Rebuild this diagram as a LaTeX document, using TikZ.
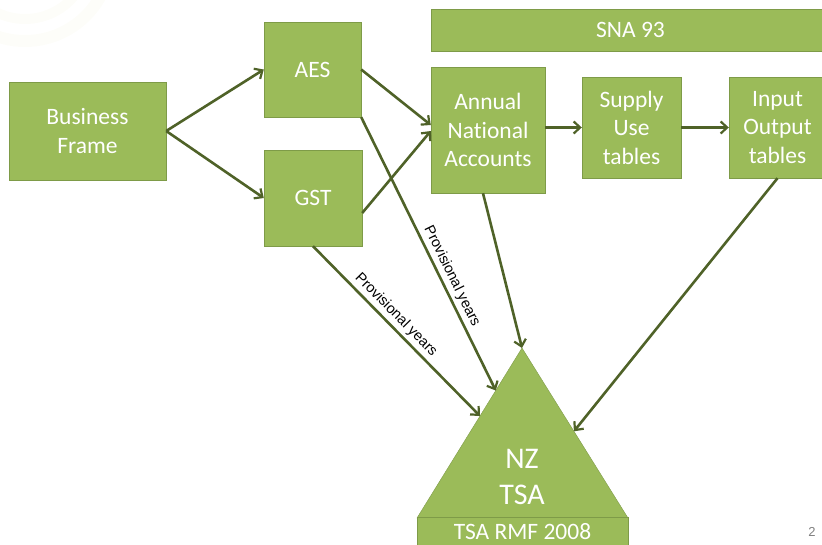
\documentclass[tikz,border=0pt]{standalone}
\usepackage{fontspec}
\setmainfont{Carlito}[Ligatures=NoCommon]
\newfontfamily\labelfont{Liberation Sans}
\usetikzlibrary{arrows.meta, calc}

\definecolor{boxgreen}{HTML}{9BBB59}
\definecolor{boxline}{HTML}{7E9B48}
\definecolor{arrowgreen}{HTML}{4F6228}
\definecolor{ringcol}{HTML}{FDFDF9}

\begin{document}
\begin{tikzpicture}[x=1pt, y=-1pt]

\tikzset{box/.style = {draw=boxline, fill=boxgreen, text=white, align=center, inner sep=0pt,
  font=\fontsize{23.5}{28.5}\selectfont}}
\tikzset{link/.style = {draw=arrowgreen, line width=2.6pt, -{Straight Barb[length=6.5pt,width=12pt,line width=2.2pt]}}}
\tikzset{prov/.style = {font=\labelfont\fontsize{14.5}{16}\selectfont, sloped, above, inner sep=3pt}}

\useasboundingbox (0,0) rectangle (822,544);
% background rings
\draw[ringcol, line width=12pt] (25,-45) circle (86);
\draw[ringcol, line width=10pt] (25,-45) circle (64);

% boxes
\node[box, minimum width=157pt, minimum height=98pt] (bf) at (87.5,131) {Business\\Frame};
\node[box, minimum width=97pt, minimum height=95pt] (aes) at (312.5,69.5) {AES};
\node[box, minimum width=98pt, minimum height=96pt] (gst) at (313,198) {GST};
\node[box, minimum width=399pt, minimum height=42pt] (sna) at (630.5,30) {SNA 93};
\node[box, minimum width=114pt, minimum height=126pt] (ana) at (488,130) {Annual\\National\\Accounts};
\node[box, minimum width=99pt, minimum height=101pt] (sut) at (631.5,127.5) {Supply\\Use\\tables};
\node[box, minimum width=97pt, minimum height=101pt] (io) at (777.5,127.5) {Input\\Output\\tables};

% triangle
\coordinate (apex) at (522,348);
\coordinate (bl) at (417,518);
\coordinate (br) at (628,518);
\draw[draw=boxline, fill=boxgreen] (apex) -- (br) -- (bl) -- cycle;
\node[text=white, align=center, font=\fontsize{30}{36}\selectfont] (tsa) at (522,477) {NZ\\TSA};
\node[box, minimum width=211pt, minimum height=30pt] (rmf) at (522.5,532) {TSA RMF 2008};
\coordinate (tl1) at ($(apex)!0.25!(bl)$);
\coordinate (tl2) at ($(apex)!0.4!(bl)$);
\coordinate (tr1) at ($(apex)!0.49!(br)$);

%arrows
\draw[link] (bf.east) -- (aes.west);
\draw[link] (bf.east) -- (gst.west);
\draw[link] (aes.east) -- ([yshift=5pt]ana.west);
\draw[link] ([yshift=-15pt]gst.east) -- ([yshift=-1pt]ana.west);
\draw[link] (ana.east |- sut.west) -- (sut.west);
\draw[link] (sut.east) -- (io.west);
\draw[link] (aes.south east) -- node[prov, pos=0.6] {Provisional years} (tl1);
\draw[link] (gst.south) -- node[prov, pos=0.45] {Provisional years} (tl2);
\draw[link] ([xshift=-5pt]ana.south) -- (apex);
\draw[link] (io.south) -- (tr1);

\node[text=gray, font=\labelfont\fontsize{13}{15}\selectfont] (pagenum) at (812,532) {2};
\end{tikzpicture}
\end{document}
